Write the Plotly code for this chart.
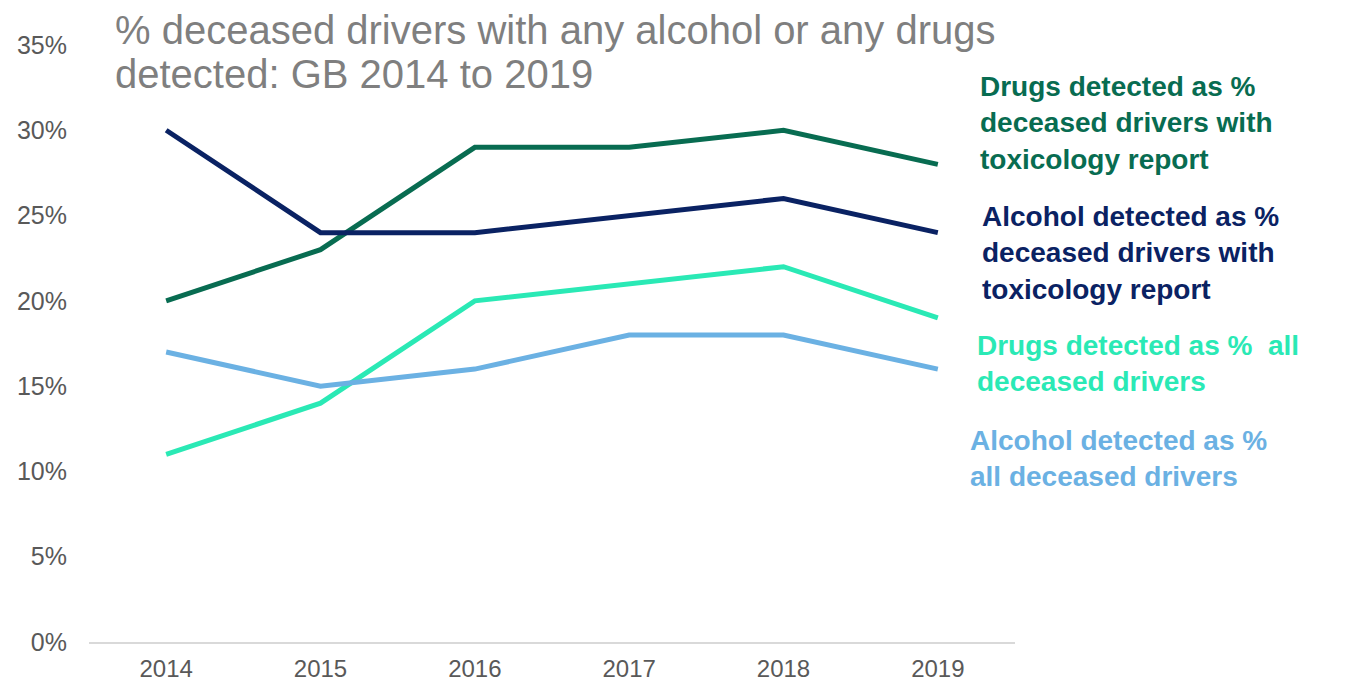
import plotly.graph_objects as go

years = ["2014", "2015", "2016", "2017", "2018", "2019"]
drugs_tox = [20, 23, 29, 29, 30, 28]
alcohol_tox = [30, 24, 24, 25, 26, 24]
drugs_all = [11, 14, 20, 21, 22, 19]
alcohol_all = [17, 15, 16, 18, 18, 16]
y_ticks = [0, 5, 10, 15, 20, 25, 30, 35]

series = [
    ("Drugs detected as %<br>deceased drivers with<br>toxicology report", drugs_tox, "#086C51"),
    ("Alcohol detected as %<br>deceased drivers with<br>toxicology report", alcohol_tox, "#0A2263"),
    ("Drugs detected as %  all<br>deceased drivers", drugs_all, "#2AE9B5"),
    ("Alcohol detected as %<br>all deceased drivers", alcohol_all, "#6BB1E3"),
]

OFF = 8  # page body margin
W, H = 1351 - OFF, 682 - OFF
# target plot area in screen pixels
SX0, SX1, SY0, SY1 = 89, 1015, 45, 642
L, R = SX0 - OFF, W - (SX1 - OFF)
T, B = SY0 - OFF, H - (SY1 - OFF)
pw, ph = SX1 - SX0, SY1 - SY0

def px(x):
    return (x - SX0) / pw

def py(y):
    return (SY1 - y) / ph

fig = go.Figure()
for name, vals, col in series:
    fig.add_trace(go.Scatter(x=years, y=vals, mode="lines", name=name.replace("<br>", " "),
                             line=dict(color=col, width=5), showlegend=False))

# legend-like labels
label_pos = [(978, 123), (980, 253), (975, 363), (968, 458)]
for (name, vals, col), (lx, ly) in zip(series, label_pos):
    fig.add_annotation(xref="paper", yref="paper", x=px(lx), y=py(ly), xanchor="left", yanchor="middle",
                       text="<b>" + name + "</b>", showarrow=False, align="left",
                       font=dict(family="Liberation Sans, Arial", size=28, color=col))

# title (two lines)
for txt, ty in [("% deceased drivers with any alcohol or any drugs", 30), ("detected: GB 2014 to 2019", 74)]:
    fig.add_annotation(xref="paper", yref="paper", x=px(113), y=py(ty), xanchor="left", yanchor="middle",
                       text=txt, showarrow=False, align="left",
                       font=dict(family="Liberation Sans, Arial", size=40, color="#7F7F7F"))

fig.update_layout(
    width=W, height=H,
    margin=dict(l=L, r=R, t=T, b=B, autoexpand=False),
    paper_bgcolor="white", plot_bgcolor="white",
    font=dict(family="Liberation Sans, Arial", color="#595959"),
)
fig.update_xaxes(type="category", range=[-0.5, 5.5], showgrid=False, showline=True, linecolor="#D9D9D9",
                 linewidth=2, ticks="", tickfont=dict(size=24, color="#595959"), ticklabelstandoff=4,
                 zeroline=False, automargin=False)
fig.update_yaxes(range=[0, 35], tickvals=y_ticks, ticktext=[f"{v}%" for v in y_ticks], showgrid=False,
                 showline=False, zeroline=False, ticks="", tickfont=dict(size=25, color="#595959"),
                 ticklabelstandoff=21, automargin=False)

fig.write_html("out.html")
